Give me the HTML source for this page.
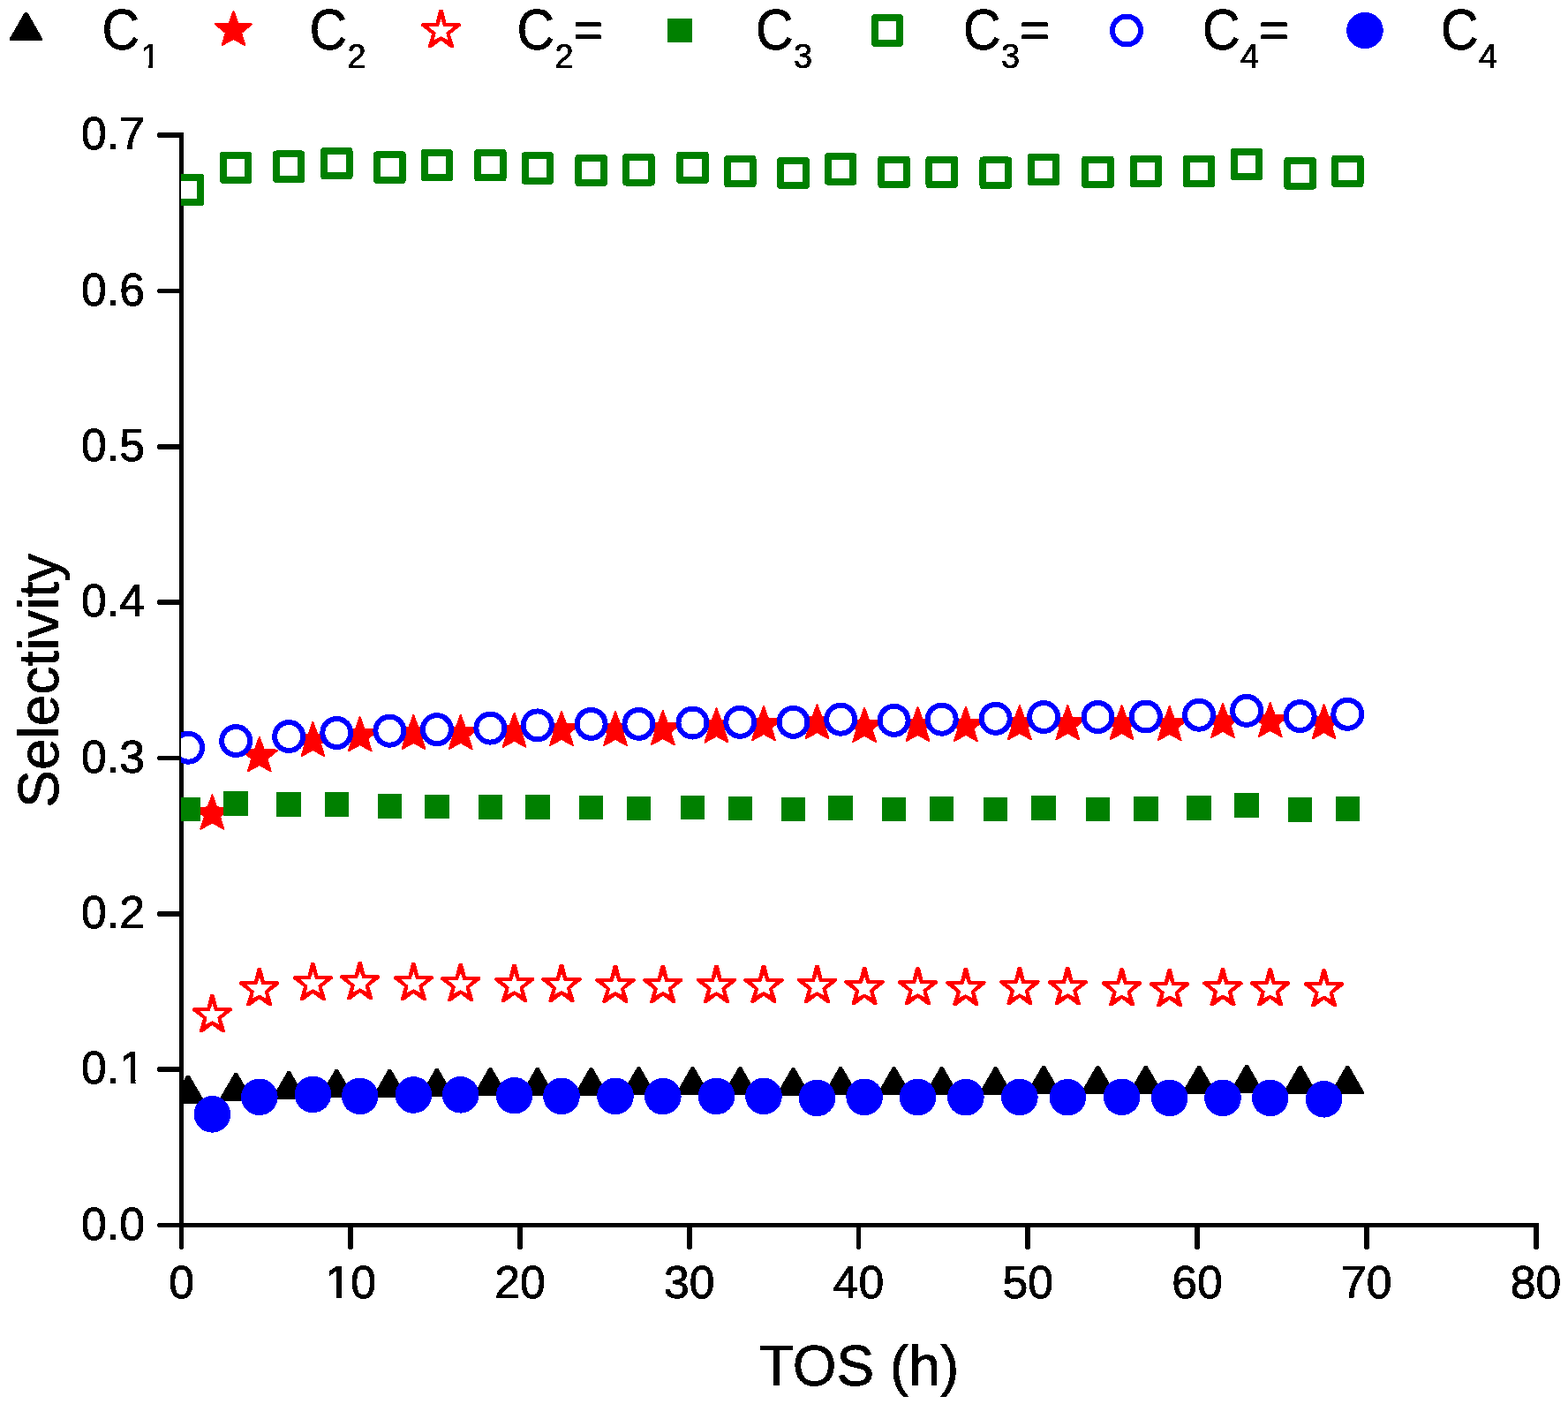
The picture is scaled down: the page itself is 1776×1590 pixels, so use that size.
<!DOCTYPE html>
<html lang="en"><head><meta charset="utf-8"><title>Selectivity vs TOS (h)</title>
<style>html,body{margin:0;padding:0;background:#fff}body{width:1776px;height:1590px;overflow:hidden}svg{display:block}text{font-family:'Liberation Sans', sans-serif;fill:#000}</style>
</head><body>
<svg width="1776" height="1590" viewBox="0 0 1776 1590">
<rect x="0" y="0" width="1776" height="1590" fill="#ffffff"/>
<defs><filter id="bw" x="-5%" y="-5%" width="110%" height="110%" color-interpolation-filters="sRGB"><feComponentTransfer><feFuncA type="discrete" tableValues="0 1 1"/></feComponentTransfer></filter><clipPath id="one_t" clipPathUnits="userSpaceOnUse"><path d="M-2 -37.87 H30.75 V-4.76 H18.17 V2 H12.65 V-4.76 H-2 Z"/></clipPath><clipPath id="one_s" clipPathUnits="userSpaceOnUse"><path d="M-2 -27.83 H23.13 V-3.74 H13.51 V2 H9.21 V-3.74 H-2 Z"/></clipPath><clipPath id="plot"><rect x="205" y="100" width="1571" height="1347.5"/></clipPath></defs>
<g fill="#000" stroke="none" shape-rendering="crispEdges">
<rect x="203" y="150" width="5" height="1240"/>
<rect x="203" y="1385" width="1540" height="5"/>
<rect x="179" y="1385" width="25" height="5"/><rect x="178" y="1386" width="1" height="3"/>
<rect x="179" y="1208" width="25" height="6"/><rect x="178" y="1209" width="1" height="4"/>
<rect x="179" y="1032" width="25" height="6"/><rect x="178" y="1033" width="1" height="4"/>
<rect x="179" y="856" width="25" height="5"/><rect x="178" y="857" width="1" height="3"/>
<rect x="179" y="679" width="25" height="6"/><rect x="178" y="680" width="1" height="4"/>
<rect x="179" y="503" width="25" height="6"/><rect x="178" y="504" width="1" height="4"/>
<rect x="179" y="327" width="25" height="5"/><rect x="178" y="328" width="1" height="3"/>
<rect x="179" y="150" width="25" height="6"/><rect x="178" y="151" width="1" height="4"/>
<rect x="203" y="1389" width="5" height="25"/><rect x="204" y="1414" width="3" height="1"/>
<rect x="394" y="1389" width="6" height="25"/><rect x="395" y="1414" width="4" height="1"/>
<rect x="586" y="1389" width="6" height="25"/><rect x="587" y="1414" width="4" height="1"/>
<rect x="778" y="1389" width="6" height="25"/><rect x="779" y="1414" width="4" height="1"/>
<rect x="970" y="1389" width="5" height="25"/><rect x="971" y="1414" width="3" height="1"/>
<rect x="1161" y="1389" width="6" height="25"/><rect x="1162" y="1414" width="4" height="1"/>
<rect x="1353" y="1389" width="6" height="25"/><rect x="1354" y="1414" width="4" height="1"/>
<rect x="1545" y="1389" width="6" height="25"/><rect x="1546" y="1414" width="4" height="1"/>
<rect x="1737" y="1389" width="6" height="25"/><rect x="1738" y="1414" width="4" height="1"/>
</g>
<g font-size="51.7" filter="url(#bw)" stroke="#000" stroke-width="0.6" stroke-linejoin="round">
<text transform="translate(163.9 1404) scale(1 0.99)" text-anchor="end">0.0</text>
<text transform="translate(135.15 1227) scale(1 0.99)" text-anchor="end">0.</text>
<text transform="translate(135.15 1227) scale(1 0.99)" clip-path="url(#one_t)">1</text>
<text transform="translate(163.9 1051) scale(1 0.99)" text-anchor="end">0.2</text>
<text transform="translate(163.9 875) scale(1 0.99)" text-anchor="end">0.3</text>
<text transform="translate(163.9 698) scale(1 0.99)" text-anchor="end">0.4</text>
<text transform="translate(163.9 522) scale(1 0.99)" text-anchor="end">0.5</text>
<text transform="translate(163.9 346) scale(1 0.99)" text-anchor="end">0.6</text>
<text transform="translate(163.9 169) scale(1 0.99)" text-anchor="end">0.7</text>
<text transform="translate(205.5 1470) scale(1 0.99)" text-anchor="middle">0</text>
<text transform="translate(368.51 1470) scale(1 0.99)" clip-path="url(#one_t)">1</text>
<text transform="translate(397.26 1470) scale(1 0.99)">0</text>
<text transform="translate(589.02 1470) scale(1 0.99)" text-anchor="middle">20</text>
<text transform="translate(780.79 1470) scale(1 0.99)" text-anchor="middle">30</text>
<text transform="translate(972.55 1470) scale(1 0.99)" text-anchor="middle">40</text>
<text transform="translate(1164.31 1470) scale(1 0.99)" text-anchor="middle">50</text>
<text transform="translate(1356.08 1470) scale(1 0.99)" text-anchor="middle">60</text>
<text transform="translate(1547.84 1470) scale(1 0.99)" text-anchor="middle">70</text>
<text transform="translate(1739.6 1470) scale(1 0.99)" text-anchor="middle">80</text>
</g>
<text x="973" y="1569.3" font-size="64" text-anchor="middle" filter="url(#bw)" stroke="#000" stroke-width="0.4">TOS (h)</text>
<g filter="url(#bw)" stroke="#000" stroke-width="0.4"><text transform="translate(66 770.7) rotate(-90)" font-size="64" text-anchor="middle">Selectivity</text></g>
<g clip-path="url(#plot)" shape-rendering="crispEdges">
<g fill="#000000" stroke="none">
<polygon points="211.6,1217.5 214.6,1217.5 231.7,1247.2 231.7,1249.6 194.5,1249.6 194.5,1247.2"/><polygon points="265.7,1214.8 268.7,1214.8 285.8,1244.5 285.8,1246.9 248.6,1246.9 248.6,1244.5"/><polygon points="325.7,1213 328.7,1213 345.8,1242.7 345.8,1245.1 308.6,1245.1 308.6,1242.7"/><polygon points="379.8,1210.8 382.8,1210.8 399.9,1240.5 399.9,1242.9 362.7,1242.9 362.7,1240.5"/><polygon points="439.9,1210.8 442.9,1210.8 460,1240.5 460,1242.9 422.8,1242.9 422.8,1240.5"/><polygon points="493.4,1209.9 496.4,1209.9 513.5,1239.6 513.5,1242 476.3,1242 476.3,1239.6"/><polygon points="553.9,1209 556.9,1209 574,1238.7 574,1241.1 536.8,1241.1 536.8,1238.7"/><polygon points="607.3,1209 610.3,1209 627.4,1238.7 627.4,1241.1 590.2,1241.1 590.2,1238.7"/><polygon points="668.1,1209 671.1,1209 688.2,1238.7 688.2,1241.1 651,1241.1 651,1238.7"/><polygon points="721.9,1208.1 724.9,1208.1 742,1237.8 742,1240.2 704.8,1240.2 704.8,1237.8"/><polygon points="783,1208.1 786,1208.1 803.1,1237.8 803.1,1240.2 765.9,1240.2 765.9,1237.8"/><polygon points="836.8,1208.1 839.8,1208.1 856.9,1237.8 856.9,1240.2 819.7,1240.2 819.7,1237.8"/><polygon points="897,1209 900,1209 917.1,1238.7 917.1,1241.1 879.9,1241.1 879.9,1238.7"/><polygon points="950.7,1208.1 953.7,1208.1 970.8,1237.8 970.8,1240.2 933.6,1240.2 933.6,1237.8"/><polygon points="1011.1,1208.1 1014.1,1208.1 1031.2,1237.8 1031.2,1240.2 994,1240.2 994,1237.8"/><polygon points="1065.2,1208.1 1068.2,1208.1 1085.3,1237.8 1085.3,1240.2 1048.1,1240.2 1048.1,1237.8"/><polygon points="1126.2,1208.1 1129.2,1208.1 1146.3,1237.8 1146.3,1240.2 1109.1,1240.2 1109.1,1237.8"/><polygon points="1180.6,1206.7 1183.6,1206.7 1200.7,1236.4 1200.7,1238.8 1163.5,1238.8 1163.5,1236.4"/><polygon points="1242,1206.7 1245,1206.7 1262.1,1236.4 1262.1,1238.8 1224.9,1238.8 1224.9,1236.4"/><polygon points="1296.3,1206.7 1299.3,1206.7 1316.4,1236.4 1316.4,1238.8 1279.2,1238.8 1279.2,1236.4"/><polygon points="1356.6,1206.7 1359.6,1206.7 1376.7,1236.4 1376.7,1238.8 1339.5,1238.8 1339.5,1236.4"/><polygon points="1410.6,1205.8 1413.6,1205.8 1430.7,1235.5 1430.7,1237.9 1393.5,1237.9 1393.5,1235.5"/><polygon points="1471.1,1206.7 1474.1,1206.7 1491.2,1236.4 1491.2,1238.8 1454,1238.8 1454,1236.4"/><polygon points="1524.8,1206.7 1527.8,1206.7 1544.9,1236.4 1544.9,1238.8 1507.7,1238.8 1507.7,1236.4"/>
</g>
<g fill="#ff0000" stroke="#ff0000" stroke-width="2" stroke-linejoin="round">
<polygon points="240.4,900.4 245.4,914.4 261,915 249,924.8 253.3,938.7 240.4,931.5 227.5,938.7 231.8,924.8 219.8,915 235.4,914.4"/><polygon points="293.8,835 298.8,849 314.4,849.6 302.4,859.4 306.7,873.3 293.8,866.1 280.9,873.3 285.2,859.4 273.2,849.6 288.8,849"/><polygon points="354.4,817.9 359.4,831.9 375,832.5 363,842.3 367.3,856.2 354.4,849 341.5,856.2 345.8,842.3 333.8,832.5 349.4,831.9"/><polygon points="407.7,812.1 412.7,826.1 428.3,826.7 416.3,836.5 420.6,850.4 407.7,843.2 394.8,850.4 399.1,836.5 387.1,826.7 402.7,826.1"/><polygon points="468.4,809.8 473.4,823.8 489,824.4 477,834.2 481.3,848.1 468.4,840.9 455.5,848.1 459.8,834.2 447.8,824.4 463.4,823.8"/><polygon points="521.7,809.8 526.7,823.8 542.3,824.4 530.3,834.2 534.6,848.1 521.7,840.9 508.8,848.1 513.1,834.2 501.1,824.4 516.7,823.8"/><polygon points="582.6,807.6 587.6,821.6 603.2,822.2 591.2,832 595.5,845.9 582.6,838.7 569.7,845.9 574,832 562,822.2 577.6,821.6"/><polygon points="636,805.8 641,819.8 656.6,820.4 644.6,830.2 648.9,844.1 636,836.9 623.1,844.1 627.4,830.2 615.4,820.4 631,819.8"/><polygon points="697,805.8 702,819.8 717.6,820.4 705.6,830.2 709.9,844.1 697,836.9 684.1,844.1 688.4,830.2 676.4,820.4 692,819.8"/><polygon points="750.8,804.9 755.8,818.9 771.4,819.5 759.4,829.3 763.7,843.2 750.8,836 737.9,843.2 742.2,829.3 730.2,819.5 745.8,818.9"/><polygon points="811.5,802.2 816.5,816.2 832.1,816.8 820.1,826.6 824.4,840.5 811.5,833.3 798.6,840.5 802.9,826.6 790.9,816.8 806.5,816.2"/><polygon points="865,799.9 870,813.9 885.6,814.5 873.6,824.3 877.9,838.2 865,831 852.1,838.2 856.4,824.3 844.4,814.5 860,813.9"/><polygon points="925.5,798.1 930.5,812.1 946.1,812.7 934.1,822.5 938.4,836.4 925.5,829.2 912.6,836.4 916.9,822.5 904.9,812.7 920.5,812.1"/><polygon points="979.1,801.7 984.1,815.7 999.7,816.3 987.7,826.1 992,840 979.1,832.8 966.2,840 970.5,826.1 958.5,816.3 974.1,815.7"/><polygon points="1039.5,800.8 1044.5,814.8 1060.1,815.4 1048.1,825.2 1052.4,839.1 1039.5,831.9 1026.6,839.1 1030.9,825.2 1018.9,815.4 1034.5,814.8"/><polygon points="1093.9,800.8 1098.9,814.8 1114.5,815.4 1102.5,825.2 1106.8,839.1 1093.9,831.9 1081,839.1 1085.3,825.2 1073.3,815.4 1088.9,814.8"/><polygon points="1154.9,799 1159.9,813 1175.5,813.6 1163.5,823.4 1167.8,837.3 1154.9,830.1 1142,837.3 1146.3,823.4 1134.3,813.6 1149.9,813"/><polygon points="1209.3,799 1214.3,813 1229.9,813.6 1217.9,823.4 1222.2,837.3 1209.3,830.1 1196.4,837.3 1200.7,823.4 1188.7,813.6 1204.3,813"/><polygon points="1270.6,799 1275.6,813 1291.2,813.6 1279.2,823.4 1283.5,837.3 1270.6,830.1 1257.7,837.3 1262,823.4 1250,813.6 1265.6,813"/><polygon points="1324.7,799.9 1329.7,813.9 1345.3,814.5 1333.3,824.3 1337.6,838.2 1324.7,831 1311.8,838.2 1316.1,824.3 1304.1,814.5 1319.7,813.9"/><polygon points="1385,796.8 1390,810.8 1405.6,811.4 1393.6,821.2 1397.9,835.1 1385,827.9 1372.1,835.1 1376.4,821.2 1364.4,811.4 1380,810.8"/><polygon points="1438.7,795.9 1443.7,809.9 1459.3,810.5 1447.3,820.3 1451.6,834.2 1438.7,827 1425.8,834.2 1430.1,820.3 1418.1,810.5 1433.7,809.9"/><polygon points="1499.6,798.1 1504.6,812.1 1520.2,812.7 1508.2,822.5 1512.5,836.4 1499.6,829.2 1486.7,836.4 1491,822.5 1479,812.7 1494.6,812.1"/>
</g>
<g fill="#ff0000" fill-rule="evenodd" stroke="none">
<path fill="#fff" d="M241.9 1125.9 242.8 1127 246.4 1141.1 261.7 1141.1 263.1 1142.4 262.9 1144.4 250.8 1153.6 255 1167.2 254.7 1168.9 251.4 1169.1 240.4 1161 229.4 1169.1 226.1 1168.9 225.8 1167.2 230 1153.6 217.9 1144.4 217.7 1142.4 219.1 1141.1 234.4 1141.1 238 1127 238.9 1125.9Z"/><path d="M241.9 1125.9 242.8 1127 246.4 1141.1 261.7 1141.1 263.1 1142.4 262.9 1144.4 250.8 1153.6 255 1167.2 254.7 1168.9 251.4 1169.1 240.4 1161 229.4 1169.1 226.1 1168.9 225.8 1167.2 230 1153.6 217.9 1144.4 217.7 1142.4 219.1 1141.1 234.4 1141.1 238 1127 238.9 1125.9ZM240.4 1137.1 243.1 1144.8 254.2 1145.2 246.3 1152.4 248 1160.2 240.4 1156.3 232.8 1160.2 234.5 1152.4 226.6 1145.2 237.7 1144.8Z"/><path fill="#fff" d="M295.3 1096.2 296.2 1097.3 299.8 1111.4 315.1 1111.4 316.5 1112.7 316.3 1114.7 304.2 1123.9 308.4 1137.5 308.1 1139.2 304.8 1139.4 293.8 1131.3 282.8 1139.4 279.5 1139.2 279.2 1137.5 283.4 1123.9 271.3 1114.7 271.1 1112.7 272.5 1111.4 287.8 1111.4 291.4 1097.3 292.3 1096.2Z"/><path d="M295.3 1096.2 296.2 1097.3 299.8 1111.4 315.1 1111.4 316.5 1112.7 316.3 1114.7 304.2 1123.9 308.4 1137.5 308.1 1139.2 304.8 1139.4 293.8 1131.3 282.8 1139.4 279.5 1139.2 279.2 1137.5 283.4 1123.9 271.3 1114.7 271.1 1112.7 272.5 1111.4 287.8 1111.4 291.4 1097.3 292.3 1096.2ZM293.8 1107.4 296.5 1115.1 307.6 1115.5 299.7 1122.7 301.4 1130.5 293.8 1126.6 286.2 1130.5 287.9 1122.7 280 1115.5 291.1 1115.1Z"/><path fill="#fff" d="M355.9 1089.9 356.8 1091 360.4 1105.1 375.7 1105.1 377.1 1106.4 376.9 1108.4 364.8 1117.6 369 1131.2 368.7 1132.9 365.4 1133.1 354.4 1125 343.4 1133.1 340.1 1132.9 339.8 1131.2 344 1117.6 331.9 1108.4 331.7 1106.4 333.1 1105.1 348.4 1105.1 352 1091 352.9 1089.9Z"/><path d="M355.9 1089.9 356.8 1091 360.4 1105.1 375.7 1105.1 377.1 1106.4 376.9 1108.4 364.8 1117.6 369 1131.2 368.7 1132.9 365.4 1133.1 354.4 1125 343.4 1133.1 340.1 1132.9 339.8 1131.2 344 1117.6 331.9 1108.4 331.7 1106.4 333.1 1105.1 348.4 1105.1 352 1091 352.9 1089.9ZM354.4 1101.1 357.1 1108.8 368.2 1109.2 360.3 1116.4 362 1124.2 354.4 1120.3 346.8 1124.2 348.5 1116.4 340.6 1109.2 351.7 1108.8Z"/><path fill="#fff" d="M409.2 1089 410.1 1090.1 413.7 1104.2 429 1104.2 430.4 1105.5 430.2 1107.5 418.1 1116.7 422.3 1130.3 422 1132 418.7 1132.2 407.7 1124.1 396.7 1132.2 393.4 1132 393.1 1130.3 397.3 1116.7 385.2 1107.5 385 1105.5 386.4 1104.2 401.7 1104.2 405.3 1090.1 406.2 1089Z"/><path d="M409.2 1089 410.1 1090.1 413.7 1104.2 429 1104.2 430.4 1105.5 430.2 1107.5 418.1 1116.7 422.3 1130.3 422 1132 418.7 1132.2 407.7 1124.1 396.7 1132.2 393.4 1132 393.1 1130.3 397.3 1116.7 385.2 1107.5 385 1105.5 386.4 1104.2 401.7 1104.2 405.3 1090.1 406.2 1089ZM407.7 1100.2 410.4 1107.9 421.5 1108.3 413.6 1115.5 415.3 1123.3 407.7 1119.4 400.1 1123.3 401.8 1115.5 393.9 1108.3 405 1107.9Z"/><path fill="#fff" d="M469.9 1089.9 470.8 1091 474.4 1105.1 489.7 1105.1 491.1 1106.4 490.9 1108.4 478.8 1117.6 483 1131.2 482.7 1132.9 479.4 1133.1 468.4 1125 457.4 1133.1 454.1 1132.9 453.8 1131.2 458 1117.6 445.9 1108.4 445.7 1106.4 447.1 1105.1 462.4 1105.1 466 1091 466.9 1089.9Z"/><path d="M469.9 1089.9 470.8 1091 474.4 1105.1 489.7 1105.1 491.1 1106.4 490.9 1108.4 478.8 1117.6 483 1131.2 482.7 1132.9 479.4 1133.1 468.4 1125 457.4 1133.1 454.1 1132.9 453.8 1131.2 458 1117.6 445.9 1108.4 445.7 1106.4 447.1 1105.1 462.4 1105.1 466 1091 466.9 1089.9ZM468.4 1101.1 471.1 1108.8 482.2 1109.2 474.3 1116.4 476 1124.2 468.4 1120.3 460.8 1124.2 462.5 1116.4 454.6 1109.2 465.7 1108.8Z"/><path fill="#fff" d="M523.2 1090.8 524.1 1091.9 527.7 1106 543 1106 544.4 1107.3 544.2 1109.3 532.1 1118.5 536.3 1132.1 536 1133.8 532.7 1134 521.7 1125.9 510.7 1134 507.4 1133.8 507.1 1132.1 511.3 1118.5 499.2 1109.3 499 1107.3 500.4 1106 515.7 1106 519.3 1091.9 520.2 1090.8Z"/><path d="M523.2 1090.8 524.1 1091.9 527.7 1106 543 1106 544.4 1107.3 544.2 1109.3 532.1 1118.5 536.3 1132.1 536 1133.8 532.7 1134 521.7 1125.9 510.7 1134 507.4 1133.8 507.1 1132.1 511.3 1118.5 499.2 1109.3 499 1107.3 500.4 1106 515.7 1106 519.3 1091.9 520.2 1090.8ZM521.7 1102 524.4 1109.7 535.5 1110.1 527.6 1117.3 529.3 1125.1 521.7 1121.2 514.1 1125.1 515.8 1117.3 507.9 1110.1 519 1109.7Z"/><path fill="#fff" d="M584.1 1091.7 585 1092.8 588.6 1106.9 603.9 1106.9 605.3 1108.2 605.1 1110.2 593 1119.4 597.2 1133 596.9 1134.7 593.6 1134.9 582.6 1126.8 571.6 1134.9 568.3 1134.7 568 1133 572.2 1119.4 560.1 1110.2 559.9 1108.2 561.3 1106.9 576.6 1106.9 580.2 1092.8 581.1 1091.7Z"/><path d="M584.1 1091.7 585 1092.8 588.6 1106.9 603.9 1106.9 605.3 1108.2 605.1 1110.2 593 1119.4 597.2 1133 596.9 1134.7 593.6 1134.9 582.6 1126.8 571.6 1134.9 568.3 1134.7 568 1133 572.2 1119.4 560.1 1110.2 559.9 1108.2 561.3 1106.9 576.6 1106.9 580.2 1092.8 581.1 1091.7ZM582.6 1102.9 585.3 1110.6 596.4 1111 588.5 1118.2 590.2 1126 582.6 1122.1 575 1126 576.7 1118.2 568.8 1111 579.9 1110.6Z"/><path fill="#fff" d="M637.5 1091.7 638.4 1092.8 642 1106.9 657.3 1106.9 658.7 1108.2 658.5 1110.2 646.4 1119.4 650.6 1133 650.3 1134.7 647 1134.9 636 1126.8 625 1134.9 621.7 1134.7 621.4 1133 625.6 1119.4 613.5 1110.2 613.3 1108.2 614.7 1106.9 630 1106.9 633.6 1092.8 634.5 1091.7Z"/><path d="M637.5 1091.7 638.4 1092.8 642 1106.9 657.3 1106.9 658.7 1108.2 658.5 1110.2 646.4 1119.4 650.6 1133 650.3 1134.7 647 1134.9 636 1126.8 625 1134.9 621.7 1134.7 621.4 1133 625.6 1119.4 613.5 1110.2 613.3 1108.2 614.7 1106.9 630 1106.9 633.6 1092.8 634.5 1091.7ZM636 1102.9 638.7 1110.6 649.8 1111 641.9 1118.2 643.6 1126 636 1122.1 628.4 1126 630.1 1118.2 622.2 1111 633.3 1110.6Z"/><path fill="#fff" d="M698.5 1092.6 699.4 1093.7 703 1107.8 718.3 1107.8 719.7 1109.1 719.5 1111.1 707.4 1120.3 711.6 1133.9 711.3 1135.6 708 1135.8 697 1127.7 686 1135.8 682.7 1135.6 682.4 1133.9 686.6 1120.3 674.5 1111.1 674.3 1109.1 675.7 1107.8 691 1107.8 694.6 1093.7 695.5 1092.6Z"/><path d="M698.5 1092.6 699.4 1093.7 703 1107.8 718.3 1107.8 719.7 1109.1 719.5 1111.1 707.4 1120.3 711.6 1133.9 711.3 1135.6 708 1135.8 697 1127.7 686 1135.8 682.7 1135.6 682.4 1133.9 686.6 1120.3 674.5 1111.1 674.3 1109.1 675.7 1107.8 691 1107.8 694.6 1093.7 695.5 1092.6ZM697 1103.8 699.7 1111.5 710.8 1111.9 702.9 1119.1 704.6 1126.9 697 1123 689.4 1126.9 691.1 1119.1 683.2 1111.9 694.3 1111.5Z"/><path fill="#fff" d="M752.3 1092.6 753.2 1093.7 756.8 1107.8 772.1 1107.8 773.5 1109.1 773.3 1111.1 761.2 1120.3 765.4 1133.9 765.1 1135.6 761.8 1135.8 750.8 1127.7 739.8 1135.8 736.5 1135.6 736.2 1133.9 740.4 1120.3 728.3 1111.1 728.1 1109.1 729.5 1107.8 744.8 1107.8 748.4 1093.7 749.3 1092.6Z"/><path d="M752.3 1092.6 753.2 1093.7 756.8 1107.8 772.1 1107.8 773.5 1109.1 773.3 1111.1 761.2 1120.3 765.4 1133.9 765.1 1135.6 761.8 1135.8 750.8 1127.7 739.8 1135.8 736.5 1135.6 736.2 1133.9 740.4 1120.3 728.3 1111.1 728.1 1109.1 729.5 1107.8 744.8 1107.8 748.4 1093.7 749.3 1092.6ZM750.8 1103.8 753.5 1111.5 764.6 1111.9 756.7 1119.1 758.4 1126.9 750.8 1123 743.2 1126.9 744.9 1119.1 737 1111.9 748.1 1111.5Z"/><path fill="#fff" d="M813 1092.6 813.9 1093.7 817.5 1107.8 832.8 1107.8 834.2 1109.1 834 1111.1 821.9 1120.3 826.1 1133.9 825.8 1135.6 822.5 1135.8 811.5 1127.7 800.5 1135.8 797.2 1135.6 796.9 1133.9 801.1 1120.3 789 1111.1 788.8 1109.1 790.2 1107.8 805.5 1107.8 809.1 1093.7 810 1092.6Z"/><path d="M813 1092.6 813.9 1093.7 817.5 1107.8 832.8 1107.8 834.2 1109.1 834 1111.1 821.9 1120.3 826.1 1133.9 825.8 1135.6 822.5 1135.8 811.5 1127.7 800.5 1135.8 797.2 1135.6 796.9 1133.9 801.1 1120.3 789 1111.1 788.8 1109.1 790.2 1107.8 805.5 1107.8 809.1 1093.7 810 1092.6ZM811.5 1103.8 814.2 1111.5 825.3 1111.9 817.4 1119.1 819.1 1126.9 811.5 1123 803.9 1126.9 805.6 1119.1 797.7 1111.9 808.8 1111.5Z"/><path fill="#fff" d="M866.5 1092.6 867.4 1093.7 871 1107.8 886.3 1107.8 887.7 1109.1 887.5 1111.1 875.4 1120.3 879.6 1133.9 879.3 1135.6 876 1135.8 865 1127.7 854 1135.8 850.7 1135.6 850.4 1133.9 854.6 1120.3 842.5 1111.1 842.3 1109.1 843.7 1107.8 859 1107.8 862.6 1093.7 863.5 1092.6Z"/><path d="M866.5 1092.6 867.4 1093.7 871 1107.8 886.3 1107.8 887.7 1109.1 887.5 1111.1 875.4 1120.3 879.6 1133.9 879.3 1135.6 876 1135.8 865 1127.7 854 1135.8 850.7 1135.6 850.4 1133.9 854.6 1120.3 842.5 1111.1 842.3 1109.1 843.7 1107.8 859 1107.8 862.6 1093.7 863.5 1092.6ZM865 1103.8 867.7 1111.5 878.8 1111.9 870.9 1119.1 872.6 1126.9 865 1123 857.4 1126.9 859.1 1119.1 851.2 1111.9 862.3 1111.5Z"/><path fill="#fff" d="M927 1092.6 927.9 1093.7 931.5 1107.8 946.8 1107.8 948.2 1109.1 948 1111.1 935.9 1120.3 940.1 1133.9 939.8 1135.6 936.5 1135.8 925.5 1127.7 914.5 1135.8 911.2 1135.6 910.9 1133.9 915.1 1120.3 903 1111.1 902.8 1109.1 904.2 1107.8 919.5 1107.8 923.1 1093.7 924 1092.6Z"/><path d="M927 1092.6 927.9 1093.7 931.5 1107.8 946.8 1107.8 948.2 1109.1 948 1111.1 935.9 1120.3 940.1 1133.9 939.8 1135.6 936.5 1135.8 925.5 1127.7 914.5 1135.8 911.2 1135.6 910.9 1133.9 915.1 1120.3 903 1111.1 902.8 1109.1 904.2 1107.8 919.5 1107.8 923.1 1093.7 924 1092.6ZM925.5 1103.8 928.2 1111.5 939.3 1111.9 931.4 1119.1 933.1 1126.9 925.5 1123 917.9 1126.9 919.6 1119.1 911.7 1111.9 922.8 1111.5Z"/><path fill="#fff" d="M980.6 1094.9 981.5 1096 985.1 1110.1 1000.4 1110.1 1001.8 1111.4 1001.6 1113.4 989.5 1122.6 993.7 1136.2 993.4 1137.9 990.1 1138.1 979.1 1130 968.1 1138.1 964.8 1137.9 964.5 1136.2 968.7 1122.6 956.6 1113.4 956.4 1111.4 957.8 1110.1 973.1 1110.1 976.7 1096 977.6 1094.9Z"/><path d="M980.6 1094.9 981.5 1096 985.1 1110.1 1000.4 1110.1 1001.8 1111.4 1001.6 1113.4 989.5 1122.6 993.7 1136.2 993.4 1137.9 990.1 1138.1 979.1 1130 968.1 1138.1 964.8 1137.9 964.5 1136.2 968.7 1122.6 956.6 1113.4 956.4 1111.4 957.8 1110.1 973.1 1110.1 976.7 1096 977.6 1094.9ZM979.1 1106.1 981.8 1113.8 992.9 1114.2 985 1121.4 986.7 1129.2 979.1 1125.3 971.5 1129.2 973.2 1121.4 965.3 1114.2 976.4 1113.8Z"/><path fill="#fff" d="M1041 1094.9 1041.9 1096 1045.5 1110.1 1060.8 1110.1 1062.2 1111.4 1062 1113.4 1049.9 1122.6 1054.1 1136.2 1053.8 1137.9 1050.5 1138.1 1039.5 1130 1028.5 1138.1 1025.2 1137.9 1024.9 1136.2 1029.1 1122.6 1017 1113.4 1016.8 1111.4 1018.2 1110.1 1033.5 1110.1 1037.1 1096 1038 1094.9Z"/><path d="M1041 1094.9 1041.9 1096 1045.5 1110.1 1060.8 1110.1 1062.2 1111.4 1062 1113.4 1049.9 1122.6 1054.1 1136.2 1053.8 1137.9 1050.5 1138.1 1039.5 1130 1028.5 1138.1 1025.2 1137.9 1024.9 1136.2 1029.1 1122.6 1017 1113.4 1016.8 1111.4 1018.2 1110.1 1033.5 1110.1 1037.1 1096 1038 1094.9ZM1039.5 1106.1 1042.2 1113.8 1053.3 1114.2 1045.4 1121.4 1047.1 1129.2 1039.5 1125.3 1031.9 1129.2 1033.6 1121.4 1025.7 1114.2 1036.8 1113.8Z"/><path fill="#fff" d="M1095.4 1095.8 1096.3 1096.9 1099.9 1111 1115.2 1111 1116.6 1112.3 1116.4 1114.3 1104.3 1123.5 1108.5 1137.1 1108.2 1138.8 1104.9 1139 1093.9 1130.9 1082.9 1139 1079.6 1138.8 1079.3 1137.1 1083.5 1123.5 1071.4 1114.3 1071.2 1112.3 1072.6 1111 1087.9 1111 1091.5 1096.9 1092.4 1095.8Z"/><path d="M1095.4 1095.8 1096.3 1096.9 1099.9 1111 1115.2 1111 1116.6 1112.3 1116.4 1114.3 1104.3 1123.5 1108.5 1137.1 1108.2 1138.8 1104.9 1139 1093.9 1130.9 1082.9 1139 1079.6 1138.8 1079.3 1137.1 1083.5 1123.5 1071.4 1114.3 1071.2 1112.3 1072.6 1111 1087.9 1111 1091.5 1096.9 1092.4 1095.8ZM1093.9 1107 1096.6 1114.7 1107.7 1115.1 1099.8 1122.3 1101.5 1130.1 1093.9 1126.2 1086.3 1130.1 1088 1122.3 1080.1 1115.1 1091.2 1114.7Z"/><path fill="#fff" d="M1156.4 1094.9 1157.3 1096 1160.9 1110.1 1176.2 1110.1 1177.6 1111.4 1177.4 1113.4 1165.3 1122.6 1169.5 1136.2 1169.2 1137.9 1165.9 1138.1 1154.9 1130 1143.9 1138.1 1140.6 1137.9 1140.3 1136.2 1144.5 1122.6 1132.4 1113.4 1132.2 1111.4 1133.6 1110.1 1148.9 1110.1 1152.5 1096 1153.4 1094.9Z"/><path d="M1156.4 1094.9 1157.3 1096 1160.9 1110.1 1176.2 1110.1 1177.6 1111.4 1177.4 1113.4 1165.3 1122.6 1169.5 1136.2 1169.2 1137.9 1165.9 1138.1 1154.9 1130 1143.9 1138.1 1140.6 1137.9 1140.3 1136.2 1144.5 1122.6 1132.4 1113.4 1132.2 1111.4 1133.6 1110.1 1148.9 1110.1 1152.5 1096 1153.4 1094.9ZM1154.9 1106.1 1157.6 1113.8 1168.7 1114.2 1160.8 1121.4 1162.5 1129.2 1154.9 1125.3 1147.3 1129.2 1149 1121.4 1141.1 1114.2 1152.2 1113.8Z"/><path fill="#fff" d="M1210.8 1094.9 1211.7 1096 1215.3 1110.1 1230.6 1110.1 1232 1111.4 1231.8 1113.4 1219.7 1122.6 1223.9 1136.2 1223.6 1137.9 1220.3 1138.1 1209.3 1130 1198.3 1138.1 1195 1137.9 1194.7 1136.2 1198.9 1122.6 1186.8 1113.4 1186.6 1111.4 1188 1110.1 1203.3 1110.1 1206.9 1096 1207.8 1094.9Z"/><path d="M1210.8 1094.9 1211.7 1096 1215.3 1110.1 1230.6 1110.1 1232 1111.4 1231.8 1113.4 1219.7 1122.6 1223.9 1136.2 1223.6 1137.9 1220.3 1138.1 1209.3 1130 1198.3 1138.1 1195 1137.9 1194.7 1136.2 1198.9 1122.6 1186.8 1113.4 1186.6 1111.4 1188 1110.1 1203.3 1110.1 1206.9 1096 1207.8 1094.9ZM1209.3 1106.1 1212 1113.8 1223.1 1114.2 1215.2 1121.4 1216.9 1129.2 1209.3 1125.3 1201.7 1129.2 1203.4 1121.4 1195.5 1114.2 1206.6 1113.8Z"/><path fill="#fff" d="M1272.1 1096.2 1273 1097.3 1276.6 1111.4 1291.9 1111.4 1293.3 1112.7 1293.1 1114.7 1281 1123.9 1285.2 1137.5 1284.9 1139.2 1281.6 1139.4 1270.6 1131.3 1259.6 1139.4 1256.3 1139.2 1256 1137.5 1260.2 1123.9 1248.1 1114.7 1247.9 1112.7 1249.3 1111.4 1264.6 1111.4 1268.2 1097.3 1269.1 1096.2Z"/><path d="M1272.1 1096.2 1273 1097.3 1276.6 1111.4 1291.9 1111.4 1293.3 1112.7 1293.1 1114.7 1281 1123.9 1285.2 1137.5 1284.9 1139.2 1281.6 1139.4 1270.6 1131.3 1259.6 1139.4 1256.3 1139.2 1256 1137.5 1260.2 1123.9 1248.1 1114.7 1247.9 1112.7 1249.3 1111.4 1264.6 1111.4 1268.2 1097.3 1269.1 1096.2ZM1270.6 1107.4 1273.3 1115.1 1284.4 1115.5 1276.5 1122.7 1278.2 1130.5 1270.6 1126.6 1263 1130.5 1264.7 1122.7 1256.8 1115.5 1267.9 1115.1Z"/><path fill="#fff" d="M1326.2 1097.1 1327.1 1098.2 1330.7 1112.3 1346 1112.3 1347.4 1113.6 1347.2 1115.6 1335.1 1124.8 1339.3 1138.4 1339 1140.1 1335.7 1140.3 1324.7 1132.2 1313.7 1140.3 1310.4 1140.1 1310.1 1138.4 1314.3 1124.8 1302.2 1115.6 1302 1113.6 1303.4 1112.3 1318.7 1112.3 1322.3 1098.2 1323.2 1097.1Z"/><path d="M1326.2 1097.1 1327.1 1098.2 1330.7 1112.3 1346 1112.3 1347.4 1113.6 1347.2 1115.6 1335.1 1124.8 1339.3 1138.4 1339 1140.1 1335.7 1140.3 1324.7 1132.2 1313.7 1140.3 1310.4 1140.1 1310.1 1138.4 1314.3 1124.8 1302.2 1115.6 1302 1113.6 1303.4 1112.3 1318.7 1112.3 1322.3 1098.2 1323.2 1097.1ZM1324.7 1108.3 1327.4 1116 1338.5 1116.4 1330.6 1123.6 1332.3 1131.4 1324.7 1127.5 1317.1 1131.4 1318.8 1123.6 1310.9 1116.4 1322 1116Z"/><path fill="#fff" d="M1386.5 1096.2 1387.4 1097.3 1391 1111.4 1406.3 1111.4 1407.7 1112.7 1407.5 1114.7 1395.4 1123.9 1399.6 1137.5 1399.3 1139.2 1396 1139.4 1385 1131.3 1374 1139.4 1370.7 1139.2 1370.4 1137.5 1374.6 1123.9 1362.5 1114.7 1362.3 1112.7 1363.7 1111.4 1379 1111.4 1382.6 1097.3 1383.5 1096.2Z"/><path d="M1386.5 1096.2 1387.4 1097.3 1391 1111.4 1406.3 1111.4 1407.7 1112.7 1407.5 1114.7 1395.4 1123.9 1399.6 1137.5 1399.3 1139.2 1396 1139.4 1385 1131.3 1374 1139.4 1370.7 1139.2 1370.4 1137.5 1374.6 1123.9 1362.5 1114.7 1362.3 1112.7 1363.7 1111.4 1379 1111.4 1382.6 1097.3 1383.5 1096.2ZM1385 1107.4 1387.7 1115.1 1398.8 1115.5 1390.9 1122.7 1392.6 1130.5 1385 1126.6 1377.4 1130.5 1379.1 1122.7 1371.2 1115.5 1382.3 1115.1Z"/><path fill="#fff" d="M1440.2 1096.2 1441.1 1097.3 1444.7 1111.4 1460 1111.4 1461.4 1112.7 1461.2 1114.7 1449.1 1123.9 1453.3 1137.5 1453 1139.2 1449.7 1139.4 1438.7 1131.3 1427.7 1139.4 1424.4 1139.2 1424.1 1137.5 1428.3 1123.9 1416.2 1114.7 1416 1112.7 1417.4 1111.4 1432.7 1111.4 1436.3 1097.3 1437.2 1096.2Z"/><path d="M1440.2 1096.2 1441.1 1097.3 1444.7 1111.4 1460 1111.4 1461.4 1112.7 1461.2 1114.7 1449.1 1123.9 1453.3 1137.5 1453 1139.2 1449.7 1139.4 1438.7 1131.3 1427.7 1139.4 1424.4 1139.2 1424.1 1137.5 1428.3 1123.9 1416.2 1114.7 1416 1112.7 1417.4 1111.4 1432.7 1111.4 1436.3 1097.3 1437.2 1096.2ZM1438.7 1107.4 1441.4 1115.1 1452.5 1115.5 1444.6 1122.7 1446.3 1130.5 1438.7 1126.6 1431.1 1130.5 1432.8 1122.7 1424.9 1115.5 1436 1115.1Z"/><path fill="#fff" d="M1501.1 1097.1 1502 1098.2 1505.6 1112.3 1520.9 1112.3 1522.3 1113.6 1522.1 1115.6 1510 1124.8 1514.2 1138.4 1513.9 1140.1 1510.6 1140.3 1499.6 1132.2 1488.6 1140.3 1485.3 1140.1 1485 1138.4 1489.2 1124.8 1477.1 1115.6 1476.9 1113.6 1478.3 1112.3 1493.6 1112.3 1497.2 1098.2 1498.1 1097.1Z"/><path d="M1501.1 1097.1 1502 1098.2 1505.6 1112.3 1520.9 1112.3 1522.3 1113.6 1522.1 1115.6 1510 1124.8 1514.2 1138.4 1513.9 1140.1 1510.6 1140.3 1499.6 1132.2 1488.6 1140.3 1485.3 1140.1 1485 1138.4 1489.2 1124.8 1477.1 1115.6 1476.9 1113.6 1478.3 1112.3 1493.6 1112.3 1497.2 1098.2 1498.1 1097.1ZM1499.6 1108.3 1502.3 1116 1513.4 1116.4 1505.5 1123.6 1507.2 1131.4 1499.6 1127.5 1492 1131.4 1493.7 1123.6 1485.8 1116.4 1496.9 1116Z"/>
</g>
<g fill="#008000" stroke="none">
<rect x="199.35" y="902.95" width="27.5" height="27.5"/><rect x="253.45" y="896.25" width="27.5" height="27.5"/><rect x="313.45" y="897.15" width="27.5" height="27.5"/><rect x="367.55" y="897.15" width="27.5" height="27.5"/><rect x="427.65" y="899.15" width="27.5" height="27.5"/><rect x="481.15" y="899.55" width="27.5" height="27.5"/><rect x="541.65" y="900.05" width="27.5" height="27.5"/><rect x="595.05" y="900.45" width="27.5" height="27.5"/><rect x="655.85" y="900.95" width="27.5" height="27.5"/><rect x="709.65" y="901.85" width="27.5" height="27.5"/><rect x="770.75" y="900.95" width="27.5" height="27.5"/><rect x="824.55" y="901.85" width="27.5" height="27.5"/><rect x="884.75" y="902.95" width="27.5" height="27.5"/><rect x="938.45" y="901.15" width="27.5" height="27.5"/><rect x="998.85" y="902.95" width="27.5" height="27.5"/><rect x="1052.95" y="902.05" width="27.5" height="27.5"/><rect x="1113.95" y="902.95" width="27.5" height="27.5"/><rect x="1168.35" y="901.15" width="27.5" height="27.5"/><rect x="1229.75" y="902.95" width="27.5" height="27.5"/><rect x="1284.05" y="902.25" width="27.5" height="27.5"/><rect x="1344.35" y="901.35" width="27.5" height="27.5"/><rect x="1398.35" y="898.25" width="27.5" height="27.5"/><rect x="1458.85" y="903.15" width="27.5" height="27.5"/><rect x="1512.55" y="902.25" width="27.5" height="27.5"/>
</g>
<g fill="#ffffff" stroke="#008000" stroke-width="8" stroke-linejoin="round">
<rect x="198.85" y="200.85" width="28.5" height="28.5"/><rect x="252.95" y="175.65" width="28.5" height="28.5"/><rect x="312.95" y="174.45" width="28.5" height="28.5"/><rect x="367.05" y="170.85" width="28.5" height="28.5"/><rect x="427.15" y="175.35" width="28.5" height="28.5"/><rect x="480.65" y="172.95" width="28.5" height="28.5"/><rect x="541.15" y="172.95" width="28.5" height="28.5"/><rect x="594.55" y="176.25" width="28.5" height="28.5"/><rect x="655.35" y="178.75" width="28.5" height="28.5"/><rect x="709.15" y="178.05" width="28.5" height="28.5"/><rect x="770.25" y="175.65" width="28.5" height="28.5"/><rect x="824.05" y="179.85" width="28.5" height="28.5"/><rect x="884.25" y="181.75" width="28.5" height="28.5"/><rect x="937.95" y="177.15" width="28.5" height="28.5"/><rect x="998.35" y="180.55" width="28.5" height="28.5"/><rect x="1052.45" y="180.55" width="28.5" height="28.5"/><rect x="1113.45" y="181.45" width="28.5" height="28.5"/><rect x="1167.85" y="177.85" width="28.5" height="28.5"/><rect x="1229.25" y="180.65" width="28.5" height="28.5"/><rect x="1283.55" y="179.65" width="28.5" height="28.5"/><rect x="1343.85" y="179.65" width="28.5" height="28.5"/><rect x="1397.85" y="171.75" width="28.5" height="28.5"/><rect x="1458.35" y="182.15" width="28.5" height="28.5"/><rect x="1512.05" y="179.65" width="28.5" height="28.5"/>
</g>
<g fill="#ffffff" stroke="#0000ff" stroke-width="6">
<circle cx="213.1" cy="846.7" r="16"/><circle cx="267.2" cy="839" r="16"/><circle cx="327.2" cy="834" r="16"/><circle cx="381.3" cy="830" r="16"/><circle cx="441.4" cy="827.7" r="16"/><circle cx="494.9" cy="826.2" r="16"/><circle cx="555.4" cy="824.6" r="16"/><circle cx="608.8" cy="821.4" r="16"/><circle cx="669.6" cy="819.9" r="16"/><circle cx="723.4" cy="819.9" r="16"/><circle cx="784.5" cy="818.5" r="16"/><circle cx="838.3" cy="817.8" r="16"/><circle cx="898.5" cy="817.8" r="16"/><circle cx="952.2" cy="814.7" r="16"/><circle cx="1012.6" cy="815.8" r="16"/><circle cx="1066.7" cy="814.7" r="16"/><circle cx="1127.7" cy="813.8" r="16"/><circle cx="1182.1" cy="812" r="16"/><circle cx="1243.5" cy="812" r="16"/><circle cx="1297.8" cy="811.5" r="16"/><circle cx="1358.1" cy="809.7" r="16"/><circle cx="1412.1" cy="804.8" r="16"/><circle cx="1472.6" cy="811.1" r="16"/><circle cx="1526.3" cy="808.8" r="16"/>
</g>
<g fill="#0000ff" stroke="none">
<circle cx="240.4" cy="1261.9" r="20.8"/><circle cx="293.8" cy="1242.3" r="20.8"/><circle cx="354.4" cy="1239.4" r="20.8"/><circle cx="407.7" cy="1241.4" r="20.8"/><circle cx="468.4" cy="1240" r="20.8"/><circle cx="521.7" cy="1239.8" r="20.8"/><circle cx="582.6" cy="1240.7" r="20.8"/><circle cx="636" cy="1241.4" r="20.8"/><circle cx="697" cy="1241.4" r="20.8"/><circle cx="750.8" cy="1241.6" r="20.8"/><circle cx="811.5" cy="1241.4" r="20.8"/><circle cx="865" cy="1241.4" r="20.8"/><circle cx="925.5" cy="1243.4" r="20.8"/><circle cx="979.1" cy="1242.3" r="20.8"/><circle cx="1039.5" cy="1242.5" r="20.8"/><circle cx="1093.9" cy="1242.7" r="20.8"/><circle cx="1154.9" cy="1242.5" r="20.8"/><circle cx="1209.3" cy="1242.7" r="20.8"/><circle cx="1270.6" cy="1242.3" r="20.8"/><circle cx="1324.7" cy="1243.4" r="20.8"/><circle cx="1385" cy="1243.4" r="20.8"/><circle cx="1438.7" cy="1243.4" r="20.8"/><circle cx="1499.6" cy="1244.8" r="20.8"/>
</g>
</g>
<g shape-rendering="crispEdges">
<g fill="#000000" stroke="none"><polygon points="28,13.85 31,13.85 48.1,43.55 48.1,45.95 10.9,45.95 10.9,43.55"/></g>
<g fill="#ff0000" stroke="#ff0000" stroke-width="2" stroke-linejoin="round"><polygon points="264.5,12.8 269.5,26.8 285.1,27.4 273.1,37.2 277.4,51.1 264.5,43.9 251.6,51.1 255.9,37.2 243.9,27.4 259.5,26.8"/></g>
<g fill="#ff0000" fill-rule="evenodd" stroke="none"><path fill="#fff" d="M501 10.8 501.9 11.9 505.5 26 520.8 26 522.2 27.3 522 29.3 509.9 38.5 514.1 52.1 513.8 53.8 510.5 54 499.5 45.9 488.5 54 485.2 53.8 484.9 52.1 489.1 38.5 477 29.3 476.8 27.3 478.2 26 493.5 26 497.1 11.9 498 10.8Z"/><path d="M501 10.8 501.9 11.9 505.5 26 520.8 26 522.2 27.3 522 29.3 509.9 38.5 514.1 52.1 513.8 53.8 510.5 54 499.5 45.9 488.5 54 485.2 53.8 484.9 52.1 489.1 38.5 477 29.3 476.8 27.3 478.2 26 493.5 26 497.1 11.9 498 10.8ZM499.5 22 502.2 29.7 513.3 30.1 505.4 37.3 507.1 45.1 499.5 41.2 491.9 45.1 493.6 37.3 485.7 30.1 496.8 29.7Z"/></g>
<g fill="#008000" stroke="none"><rect x="756.25" y="20.75" width="27.5" height="27.5"/></g>
<g fill="#ffffff" stroke="#008000" stroke-width="8" stroke-linejoin="round"><rect x="990.75" y="20.25" width="28.5" height="28.5"/></g>
<g fill="#ffffff" stroke="#0000ff" stroke-width="6"><circle cx="1276" cy="34.5" r="16"/></g>
<g fill="#0000ff" stroke="none"><circle cx="1546" cy="34.5" r="20.8"/></g>
</g>
<g filter="url(#bw)" stroke="#000" stroke-width="0.4">
<text transform="translate(115.4 56.25) scale(0.95 1.03)" font-size="62">C</text>
<text transform="translate(159.4 76.9)" font-size="38" stroke="none" clip-path="url(#one_s)">1</text>
<text transform="translate(350.4 56.25) scale(0.95 1.03)" font-size="62">C</text>
<text x="393.5" y="76.9" font-size="38">2</text>
<text transform="translate(585.4 56.25) scale(0.95 1.03)" font-size="62">C</text>
<text x="628.5" y="76.9" font-size="38">2</text>
<text transform="translate(649.6 54.4) scale(0.94 0.93)" font-size="62">=</text>
<text transform="translate(855.9 56.25) scale(0.95 1.03)" font-size="62">C</text>
<text x="899" y="76.9" font-size="38">3</text>
<text transform="translate(1090.9 56.25) scale(0.95 1.03)" font-size="62">C</text>
<text x="1134" y="76.9" font-size="38">3</text>
<text transform="translate(1155.1 54.4) scale(0.94 0.93)" font-size="62">=</text>
<text transform="translate(1361.9 56.25) scale(0.95 1.03)" font-size="62">C</text>
<text x="1405" y="76.9" font-size="38">4</text>
<text transform="translate(1426.1 54.4) scale(0.94 0.93)" font-size="62">=</text>
<text transform="translate(1631.9 56.25) scale(0.95 1.03)" font-size="62">C</text>
<text x="1675" y="76.9" font-size="38">4</text>
</g>
</svg>
</body></html>
